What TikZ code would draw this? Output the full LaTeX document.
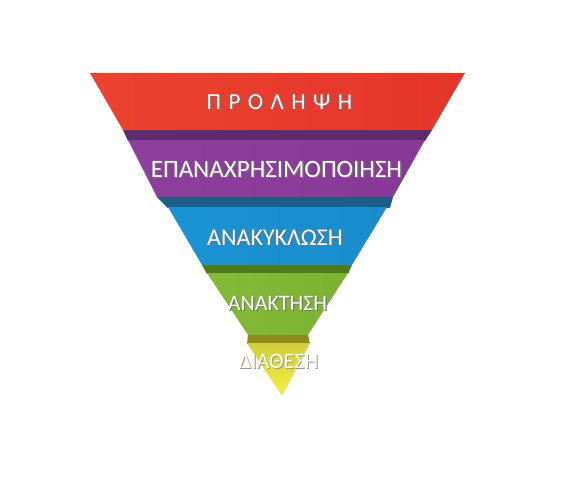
\documentclass[tikz,border=0pt]{standalone}
\usepackage{fontspec}
\setmainfont{Carlito}
\usepackage{xcolor}
\usepackage{tikz}

\definecolor{redL}{HTML}{EC4230}
\definecolor{redM}{HTML}{F26B45}
\definecolor{redR}{HTML}{E5352A}
\definecolor{purL}{HTML}{8E3F9E}
\definecolor{purM}{HTML}{B26CBE}
\definecolor{purR}{HTML}{883896}
\definecolor{bluL}{HTML}{1B93D3}
\definecolor{bluM}{HTML}{52BEEC}
\definecolor{bluR}{HTML}{1A8CCD}
\definecolor{grnL}{HTML}{84BA38}
\definecolor{grnM}{HTML}{A9D04E}
\definecolor{grnR}{HTML}{7BB230}
\definecolor{yelT}{HTML}{CFCF3A}
\definecolor{yelB}{HTML}{F9EE42}
\definecolor{foldP}{HTML}{5E2C6E}
\definecolor{foldB}{HTML}{1D5E86}
\definecolor{foldG}{HTML}{4E7A1E}
\definecolor{foldY}{HTML}{8C8A1C}

\begin{document}
\begin{tikzpicture}[x=1pt,y=-1pt,
    lbl/.style={anchor=base,text=white,inner sep=0pt},
    lblshade/.style={anchor=base,text=black!55,inner sep=0pt}]
    \useasboundingbox[fill=white] (0,0) rectangle (583,480);
    \fill[foldP] (123,130) -- (432,130) -- (425,141) -- (128,141) -- cycle;
    \fill[foldB] (157,197) -- (393,197) -- (390,208) -- (168,208) -- cycle;
    \fill[foldG] (202,265) -- (352,265) -- (348,274) -- (207,274) -- cycle;
    \fill[foldY] (248,335) -- (308,335) -- (310,344) -- (247,344) -- cycle;
    \shade[left color=redL,middle color=redM,right color=redR] (90,73) -- (465,73) -- (432,130) -- (123,130) -- cycle;
    \shade[left color=purL,middle color=purM,right color=purR] (128,140) -- (425,140) -- (393,197) -- (157,197) -- cycle;
    \shade[left color=bluL,middle color=bluM,right color=bluR] (168,207) -- (387,207) -- (352,265) -- (202,265) -- cycle;
    \shade[left color=grnL,middle color=grnM,right color=grnR] (207,273) -- (348,273) -- (308,335) -- (248,335) -- cycle;
    \shade[top color=yelT,bottom color=yelB] (247,343) -- (310,343) -- (282,396) -- cycle;
    \node[lblshade,font=\fontsize{23}{27}\selectfont] (prolipsis) at (280.7,110.2) {\spaceskip=7.5pt\relax Π Ρ Ο Λ Η Ψ Η};
    \node[lbl,font=\fontsize{23}{27}\selectfont] (prolipsi) at (279.5,109) {\spaceskip=7.5pt\relax Π Ρ Ο Λ Η Ψ Η};
    \node[lblshade,font=\fontsize{25}{29}\selectfont] (epanachrisis) at (277.7,178.2) {ΕΠΑΝΑΧΡΗΣΙΜΟΠΟΙΗΣΗ};
    \node[lbl,font=\fontsize{25}{29}\selectfont] (epanachrisi) at (276.5,177) {ΕΠΑΝΑΧΡΗΣΙΜΟΠΟΙΗΣΗ};
    \node[lblshade,font=\fontsize{24}{28}\selectfont] (anakyklosis) at (276.2,246.7) {ΑΝΑΚΥΚΛΩΣΗ};
    \node[lbl,font=\fontsize{24}{28}\selectfont] (anakyklosi) at (275,245.5) {ΑΝΑΚΥΚΛΩΣΗ};
    \node[lblshade,font=\fontsize{22}{26}\selectfont] (anaktisis) at (278.7,311.2) {ΑΝΑΚΤΗΣΗ};
    \node[lbl,font=\fontsize{22}{26}\selectfont] (anaktisi) at (277.5,310) {ΑΝΑΚΤΗΣΗ};
    \node[lblshade,text=black!40,font=\fontsize{22}{26}\selectfont] (diathesis) at (279.5,369) {ΔΙΑΘΕΣΗ};
    \node[lbl,text=white!92!yellow,font=\fontsize{22}{26}\selectfont] (diathesi) at (278.5,368) {ΔΙΑΘΕΣΗ};
\end{tikzpicture}
\end{document}
